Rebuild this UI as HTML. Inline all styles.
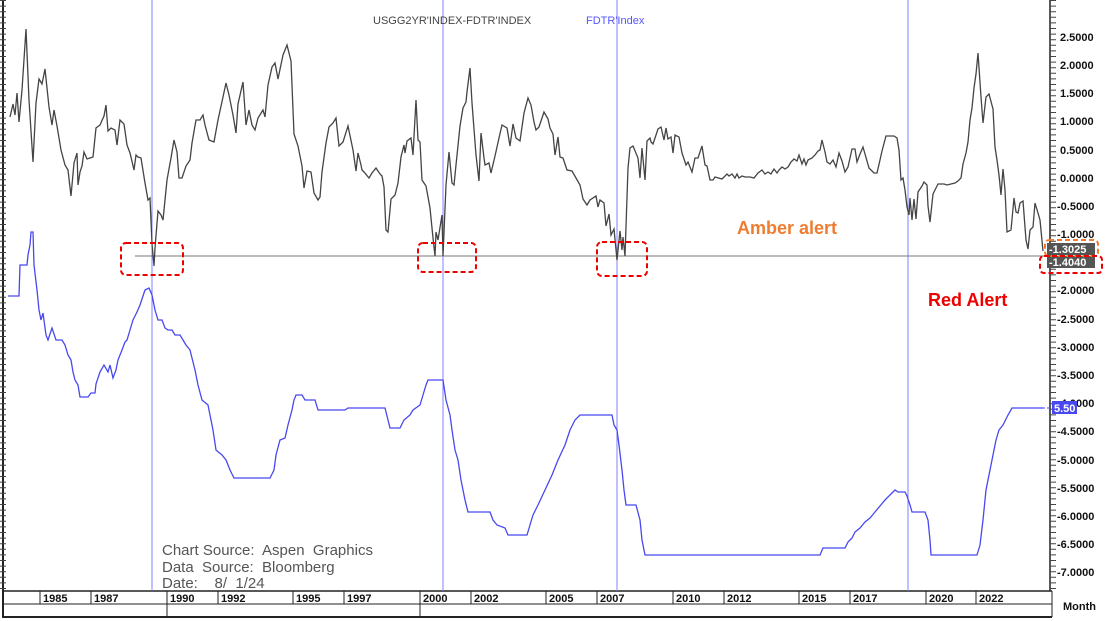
<!DOCTYPE html>
<html><head><meta charset="utf-8"><style>
body{margin:0;background:#fff;}
svg{display:block;font-family:"Liberation Sans",Arial,sans-serif;}
text{white-space:pre;}
</style></head><body>
<svg width="1110" height="621" viewBox="0 0 1110 621" xmlns="http://www.w3.org/2000/svg">
<rect width="1110" height="621" fill="#fff"/>
<line x1="3" y1="0" x2="3" y2="618" stroke="#222" stroke-width="2"/>
<line x1="1050" y1="0" x2="1050" y2="591" stroke="#222" stroke-width="1.5"/>
<line x1="3" y1="591" x2="1052" y2="591" stroke="#222" stroke-width="1.5"/>
<line x1="3" y1="604" x2="1052" y2="604" stroke="#222" stroke-width="1"/>
<line x1="3" y1="617" x2="1052" y2="617" stroke="#222" stroke-width="2"/>
<line x1="1052" y1="591" x2="1052" y2="617" stroke="#222" stroke-width="1"/>
<line x1="167" y1="604" x2="167" y2="617" stroke="#222"/>
<line x1="420" y1="604" x2="420" y2="617" stroke="#222"/>
<g stroke="#222" stroke-width="1">
<line x1="40" y1="591" x2="40" y2="604"/><line x1="91" y1="591" x2="91" y2="604"/><line x1="167" y1="591" x2="167" y2="604"/><line x1="218" y1="591" x2="218" y2="604"/><line x1="293" y1="591" x2="293" y2="604"/><line x1="344" y1="591" x2="344" y2="604"/><line x1="420" y1="591" x2="420" y2="604"/><line x1="471" y1="591" x2="471" y2="604"/><line x1="546" y1="591" x2="546" y2="604"/><line x1="597" y1="591" x2="597" y2="604"/><line x1="673" y1="591" x2="673" y2="604"/><line x1="724" y1="591" x2="724" y2="604"/><line x1="799" y1="591" x2="799" y2="604"/><line x1="850" y1="591" x2="850" y2="604"/><line x1="926" y1="591" x2="926" y2="604"/><line x1="976" y1="591" x2="976" y2="604"/>
</g>
<g font-size="11" font-weight="bold" fill="#111">
<text x="43" y="602">1985</text><text x="94" y="602">1987</text><text x="170" y="602">1990</text><text x="221" y="602">1992</text><text x="296" y="602">1995</text><text x="347" y="602">1997</text><text x="423" y="602">2000</text><text x="474" y="602">2002</text><text x="549" y="602">2005</text><text x="600" y="602">2007</text><text x="676" y="602">2010</text><text x="727" y="602">2012</text><text x="802" y="602">2015</text><text x="853" y="602">2017</text><text x="929" y="602">2020</text><text x="979" y="602">2022</text>
<text x="1063" y="610">Month</text>
</g>
<path d="M3 0 V590" stroke="#444" stroke-width="6" stroke-dasharray="1 4.6" fill="none"/>
<path d="M1053 0 V590" stroke="#444" stroke-width="6" stroke-dasharray="1 4.6" fill="none"/>
<g font-size="11" font-weight="bold" fill="#111">
<text x="1060" y="41">2.5000</text><text x="1060" y="69">2.0000</text><text x="1060" y="97">1.5000</text><text x="1060" y="125">1.0000</text><text x="1060" y="154">0.5000</text><text x="1060" y="182">0.0000</text><text x="1057" y="210">-0.5000</text><text x="1057" y="238">-1.0000</text><text x="1057" y="294">-2.0000</text><text x="1057" y="323">-2.5000</text><text x="1057" y="351">-3.0000</text><text x="1057" y="379">-3.5000</text><text x="1057" y="407">-4.0000</text><text x="1057" y="435">-4.5000</text><text x="1057" y="464">-5.0000</text><text x="1057" y="492">-5.5000</text><text x="1057" y="520">-6.0000</text><text x="1057" y="548">-6.5000</text><text x="1057" y="576">-7.0000</text>
</g>
<g stroke="#8080ff" stroke-width="1">
<line x1="152" y1="0" x2="152" y2="591"/><line x1="443" y1="0" x2="443" y2="591"/><line x1="617" y1="0" x2="617" y2="591"/><line x1="908" y1="0" x2="908" y2="591"/>
</g>
<line x1="135" y1="256" x2="1048" y2="256" stroke="#777" stroke-width="1"/>
<text x="373" y="24" font-size="11" fill="#444">USGG2YR'INDEX-FDTR'INDEX</text>
<text x="586" y="24" font-size="11" fill="#5555ff">FDTR'Index</text>
<polyline fill="none" stroke="#444" stroke-width="1.3" points="10,117 13,104 15,115 17,93 19,122 22,90 26,29 29,100 33,162 36,103 39,79 42,84 45,69 49,107 52,125 54,110 57,126 61,150 65,165 68,170 71,196 74,163 77,153 78,185 80,172 82,166 84,152 87,159 93,157 96,128 100,125 104,116 106,105 108,131 111,128 115,130 117,145 120,120 124,124 127,145 130,153 134,170 136,155 138,157 141,158 145,183 148,200 150,198 152,244 154,266 155,248 158,211 161,215 163,220 167,180 171,158 174,140 177,152 179,178 182,178 186,166 190,160 192,143 196,120 200,120 203,115 205,125 209,140 214,142 218,120 223,97 226,83 229,95 233,115 236,133 238,104 243,82 246,125 249,110 252,125 255,130 258,118 263,110 265,117 268,85 272,67 275,63 278,79 283,55 287,45 291,61 294,134 298,146 302,166 304,188 307,171 311,172 314,193 318,200 320,197 322,172 326,143 329,127 333,123 336,118 339,146 343,142 348,126 353,150 356,171 358,153 361,165 362,170 364,172 369,178 372,173 376,168 380,174 382,176 384,187 386,230 388,232 391,199 395,195 398,183 401,157 404,145 405,153 407,141 411,138 413,155 415,118 416,100 418,140 420,142 422,180 426,186 430,208 433,238 435,256 436,232 438,240 442,215 443,256 446,185 449,152 452,183 454,185 456,165 460,126 463,108 466,102 467,92 470,68 472,103 476,155 479,181 481,133 484,158 485,165 489,163 491,173 495,156 499,138 502,125 507,128 510,146 513,124 516,138 520,141 524,113 528,98 531,105 534,122 536,130 539,127 544,112 548,119 550,128 553,134 555,155 558,137 560,157 563,158 567,170 572,171 576,178 580,185 583,199 587,205 590,200 596,196 598,207 600,200 604,203 606,226 609,214 611,235 614,229 617,260 620,231 622,250 623,237 625,256 628,168 630,148 633,146 638,158 640,178 642,148 645,180 647,141 650,138 651,142 653,144 658,129 661,127 664,140 666,128 668,139 671,137 673,153 675,135 679,137 682,153 686,165 688,162 692,172 695,158 698,158 702,146 705,165 707,166 710,180 713,180 715,177 722,179 727,174 729,176 732,174 735,178 737,174 739,178 742,176 745,177 750,177 754,178 758,173 762,170 765,174 768,172 771,174 774,169 777,173 779,170 782,167 785,169 788,167 791,162 794,159 797,161 799,155 802,164 804,159 806,165 808,160 812,158 815,155 818,151 820,150 822,140 825,152 827,162 830,164 833,160 836,167 839,153 842,161 845,172 848,167 852,149 855,149 857,162 860,154 863,147 869,168 874,173 877,173 880,160 882,151 886,136 888,136 891,136 894,136 897,138 899,150 901,180 903,178 905,190 907,207 909,215 910,198 912,220 914,199 916,219 918,192 922,186 924,182 927,185 928,206 930,222 933,194 938,184 940,184 944,184 947,185 951,184 955,183 958,181 961,178 963,164 966,153 968,142 970,120 972,108 974,88 976,74 978,53 981,97 983,123 986,97 989,94 993,109 995,147 997,160 999,175 1001,195 1003,169 1005,190 1007,232 1011,230 1014,198 1016,212 1018,213 1020,203 1023,201 1026,240 1028,249 1030,230 1033,227 1035,203 1038,213 1040,220 1043,251"/>
<polyline fill="none" stroke="#4848f0" stroke-width="1.3" points="8,296 19,296 20,265 27,265 28,255 30,245 31,232 33,232 34,265 37,290 39,310 41,320 43,313 46,335 48,340 52,328 56,340 62,340 65,345 68,355 71,360 73,372 75,380 78,385 80,397 88,397 91,393 95,393 96,384 100,372 104,365 108,372 110,365 113,378 116,370 118,360 122,350 125,342 127,340 130,330 133,320 137,312 140,305 145,290 149,288 152,295 155,310 158,320 162,320 165,328 168,330 172,330 175,335 180,335 183,340 186,345 190,350 195,370 198,385 202,400 208,405 210,415 213,430 216,450 222,455 226,460 230,470 234,478 270,478 274,470 276,455 280,440 285,438 288,425 292,410 294,400 296,395 302,395 305,400 315,400 318,410 345,410 348,408 385,408 388,420 390,428 400,428 404,420 410,415 413,410 420,405 423,395 426,385 428,380 443,380 446,400 450,415 452,430 455,450 458,460 461,480 465,500 468,512 490,512 493,520 497,525 505,528 508,535 527,535 530,525 533,515 538,505 545,490 552,475 558,460 565,445 570,430 575,420 580,415 612,415 614,425 617,430 619,445 622,470 624,490 626,505 636,505 640,520 642,540 645,555 820,555 823,548 845,548 848,542 852,538 855,532 860,528 865,522 870,518 875,512 880,506 885,500 890,495 895,490 898,492 905,492 907,496 910,505 912,512 925,512 928,520 930,540 931,555 977,555 980,545 983,520 986,490 990,470 993,455 996,440 999,430 1003,425 1008,415 1012,408 1043,408"/>
<line x1="1043" y1="408" x2="1050" y2="408" stroke="#4848f0" stroke-dasharray="2 2"/>
<rect x="1052" y="401" width="25" height="13" fill="#4848f0"/>
<text x="1054" y="412" font-size="11" font-weight="bold" fill="#fff">5.50</text>
<rect x="1047" y="243" width="48" height="12" fill="#555"/>
<text x="1049" y="253" font-size="11" font-weight="bold" fill="#fff">-1.3025</text>
<rect x="1047" y="256" width="48" height="12" fill="#555"/>
<text x="1049" y="266" font-size="11" font-weight="bold" fill="#fff">-1.4040</text>
<rect x="1045" y="240" width="53" height="16" rx="4" fill="none" stroke="#ed7d31" stroke-width="2" stroke-dasharray="5 3"/>
<rect x="1040" y="256" width="62" height="17" rx="4" fill="none" stroke="#e00" stroke-width="2" stroke-dasharray="5 3"/>
<g fill="none" stroke="#e00" stroke-width="2" stroke-dasharray="5 3">
<rect x="121" y="243" width="62" height="32" rx="5"/>
<rect x="418" y="243" width="58" height="29" rx="5"/>
<rect x="597" y="242" width="50" height="34" rx="5"/>
</g>
<text x="737" y="234" font-size="18" font-weight="bold" fill="#ed7d31">Amber alert</text>
<text x="928" y="306" font-size="18" font-weight="bold" fill="#e00">Red Alert</text>
<g font-size="15" fill="#555">
<text x="162" y="555" xml:space="preserve">Chart Source:  Aspen  Graphics</text>
<text x="162" y="572" xml:space="preserve">Data  Source:  Bloomberg</text>
<text x="162" y="588" xml:space="preserve">Date:    8/  1/24</text>
</g>
</svg>
</body></html>
